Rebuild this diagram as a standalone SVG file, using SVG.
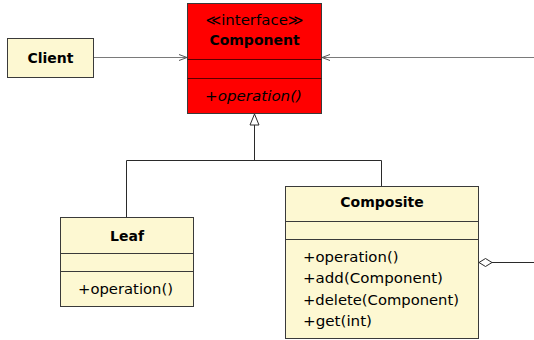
<svg xmlns="http://www.w3.org/2000/svg" width="534" height="340" viewBox="0 0 534 340">
<style>
  .box { fill: #fdf8d2; stroke: #3a3a3a; stroke-width: 1; }
  .red { fill: #ff0000; stroke: #3a3a3a; stroke-width: 1; }
  .sep { stroke: #3a3a3a; stroke-width: 1; }
  .sepr { stroke: #5a0000; stroke-width: 1; }
  .t { font-family: "DejaVu Sans", sans-serif; font-size: 14.5px; fill: #000; }
  .b { font-size: 14px; font-weight: bold; text-anchor: middle; }
  .c { text-anchor: middle; }
  .i { font-style: italic; }
  .dep { stroke: #7a7a7a; stroke-width: 1.2; fill: none; }
  .gen { stroke: #2a2a2a; stroke-width: 1; fill: none; }
</style>
<defs>
  <marker id="open" markerWidth="10" markerHeight="10" refX="8" refY="4" orient="auto" markerUnits="userSpaceOnUse">
    <path d="M0,1 L8,4 L0,7" fill="none" stroke="#555" stroke-width="1"/>
  </marker>
</defs>
<g id="connectors">
  <line class="dep" x1="94" y1="57.5" x2="187" y2="57.5" marker-end="url(#open)"/>
  <line class="dep" x1="534" y1="57.5" x2="322" y2="57.5" marker-end="url(#open)"/>
  <path class="gen" d="M254.5,125 L254.5,160.5 M126.5,217 L126.5,160.5 L381.5,160.5 L381.5,186"/>
  <path d="M254.5,114 L259,125 L250,125 Z" fill="#fff" stroke="#2a2a2a" stroke-width="1"/>
  <line class="gen" x1="492" y1="262.5" x2="534" y2="262.5" stroke="#555"/>
  <path d="M479,262.5 L485.5,258.5 L492,262.5 L485.5,266.5 Z" fill="#fff" stroke="#2a2a2a" stroke-width="1"/>
</g>
<g id="client">
  <rect class="box" x="7.5" y="38.5" width="86" height="39"/>
  <text class="t b" x="50.5" y="63">Client</text>
</g>
<g id="component">
  <rect class="red" x="187.5" y="3.5" width="134" height="110"/>
  <line class="sepr" x1="187.5" y1="59.5" x2="321.5" y2="59.5"/>
  <line class="sepr" x1="187.5" y1="78.5" x2="321.5" y2="78.5"/>
  <text class="t c" x="254.5" y="25" textLength="98" lengthAdjust="spacingAndGlyphs">≪interface≫</text>
  <text class="t b" x="254.5" y="45">Component</text>
  <text class="t i" x="205" y="101" textLength="97" lengthAdjust="spacingAndGlyphs">+operation()</text>
</g>
<g id="leaf">
  <rect class="box" x="60.5" y="217.5" width="133" height="89"/>
  <line class="sep" x1="60.5" y1="253.5" x2="193.5" y2="253.5"/>
  <line class="sep" x1="60.5" y1="271.5" x2="193.5" y2="271.5"/>
  <text class="t b" x="127" y="241">Leaf</text>
  <text class="t" x="78" y="294" textLength="95" lengthAdjust="spacingAndGlyphs">+operation()</text>
</g>
<g id="composite">
  <rect class="box" x="285.5" y="186.5" width="193" height="152"/>
  <line class="sep" x1="285.5" y1="221.5" x2="478.5" y2="221.5"/>
  <line class="sep" x1="285.5" y1="239.5" x2="478.5" y2="239.5"/>
  <text class="t b" x="382" y="207">Composite</text>
  <text class="t" x="303" y="262" textLength="95.5" lengthAdjust="spacingAndGlyphs">+operation()</text>
  <text class="t" x="303" y="283.3" textLength="140" lengthAdjust="spacingAndGlyphs">+add(Component)</text>
  <text class="t" x="303" y="304.6" textLength="156" lengthAdjust="spacingAndGlyphs">+delete(Component)</text>
  <text class="t" x="303" y="325.9" textLength="69" lengthAdjust="spacingAndGlyphs">+get(int)</text>
</g>
</svg>
